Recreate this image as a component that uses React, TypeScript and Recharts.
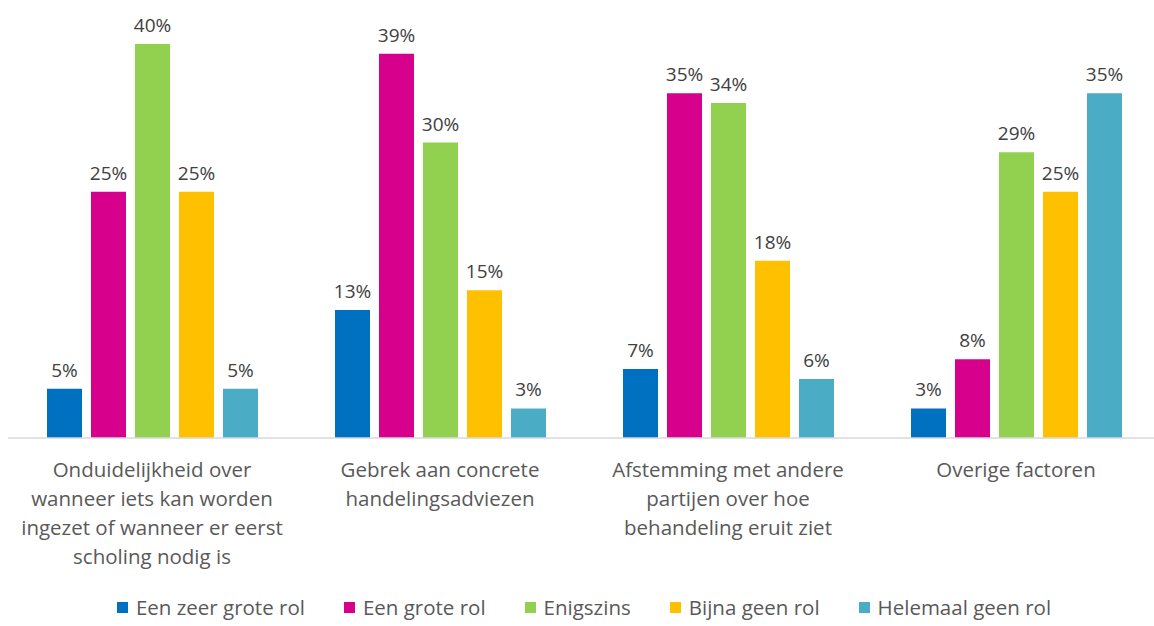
import React from 'react';
import { BarChart, Bar, XAxis, YAxis, LabelList, Legend } from 'recharts';

// categories (each one split into the lines shown under the axis)
const categories = ['Onduidelijkheid', 'Gebrek', 'Afstemming', 'Overige'];
const categoryLines = [
  ['Onduidelijkheid over', 'wanneer iets kan worden', 'ingezet of wanneer er eerst', 'scholing nodig is'],
  ['Gebrek aan concrete', 'handelingsadviezen'],
  ['Afstemming met andere', 'partijen over hoe', 'behandeling eruit ziet'],
  ['Overige factoren'],
];

// series values in %
const zeerGroot = [5, 13, 7, 3];
const groot = [25, 39, 35, 8];
const enigszins = [40, 30, 34, 29];
const bijnaGeen = [25, 15, 18, 25];
const helemaalGeen = [5, 3, 6, 35];

const seriesNames = ['Een zeer grote rol', 'Een grote rol', 'Enigszins', 'Bijna geen rol', 'Helemaal geen rol'];
const seriesColors = ['#0070C0', '#D6008C', '#92D050', '#FFC000', '#4BACC6'];
const seriesValues = [zeerGroot, groot, enigszins, bijnaGeen, helemaalGeen];

const data = categories.map((c, i) => {
  const row: Record<string, any> = { name: c, idx: i };
  seriesNames.forEach((s, j) => {
    row[s] = seriesValues[j][i];
  });
  return row;
});

const FONT = 'Open Sans, sans-serif';

const CategoryTick = (props: any) => {
  const { x, y, payload } = props;
  const lines = categoryLines[payload.index] || [];
  return (
    <text x={x} y={y} textAnchor="middle" fill="#595959" fontSize={20.5} fontFamily={FONT}>
      {lines.map((l, i) => (
        <tspan key={i} x={x} dy={i === 0 ? 31 : 29}>{l}</tspan>
      ))}
    </text>
  );
};

const LegendContent = () => (
  <div style={{ display: 'flex', justifyContent: 'center', gap: 39, fontFamily: FONT, fontSize: 20.5, color: '#595959', paddingTop: 5, paddingRight: 0 }}>
    {seriesNames.map((s, i) => (
      <div key={s} style={{ display: 'flex', alignItems: 'center' }}>
        <span style={{ width: 11, height: 11, background: seriesColors[i], marginRight: 8, display: 'inline-block' }} />
        <span>{s}</span>
      </div>
    ))}
  </div>
);

export default function App() {
  return (
    <div style={{ position: 'absolute', left: 0, top: 0, width: 1154, height: 626, overflow: 'hidden', background: '#fff' }}>
      <BarChart
        width={1160}
        height={626}
        data={data}
        margin={{ top: 44, right: 0, left: 8, bottom: 0 }}
        barSize={35}
        barGap={9}
      >
        <XAxis
          dataKey="name"
          axisLine={{ stroke: '#D9D9D9', strokeWidth: 1.5 }}
          tickLine={false}
          height={150}
          interval={0}
          tick={<CategoryTick />}
        />
        <YAxis hide domain={[0, 40]} />
        <Legend verticalAlign="bottom" height={38} content={<LegendContent />} />
        {seriesNames.map((s, i) => (
          <Bar key={s} dataKey={s} fill={seriesColors[i]} isAnimationActive={false}>
            <LabelList
              dataKey={s}
              position="top"
              offset={12}
              formatter={(v: any) => `${v}%`}
              fill="#404040"
              fontSize={19}
              fontFamily={FONT}
            />
          </Bar>
        ))}
      </BarChart>
    </div>
  );
}
